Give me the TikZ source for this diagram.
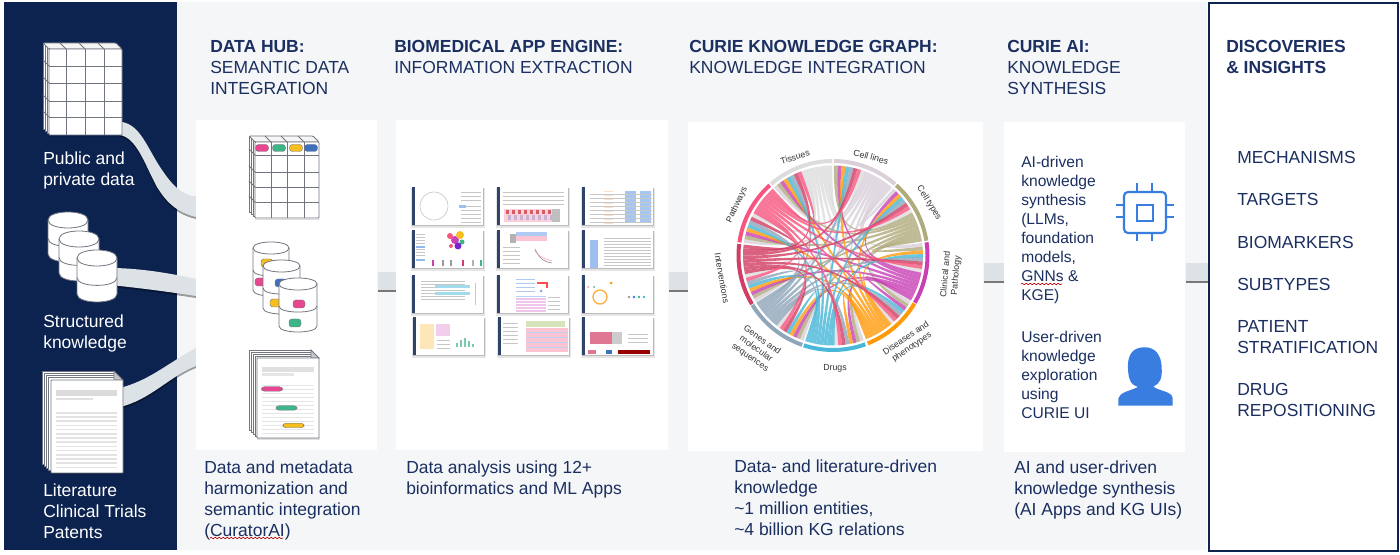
\documentclass[tikz,border=0pt]{standalone}
\usepackage{fontspec}
\setmainfont{Liberation Sans}
\usetikzlibrary{decorations.pathmorphing,calc}
\definecolor{navy}{HTML}{0C2350}
\definecolor{ink}{HTML}{1B2F60}
\definecolor{pale}{HTML}{F4F6F8}
\definecolor{bandc}{HTML}{DDE2E6}
\definecolor{edgec}{HTML}{70757F}
\definecolor{pk}{HTML}{E8468F}
\definecolor{gn}{HTML}{3DB587}
\definecolor{yl}{HTML}{F7BE1E}
\definecolor{bl}{HTML}{3F70BE}
\definecolor{chipc}{HTML}{3A7DE0}
\definecolor{c0}{HTML}{D9D0DA}
\definecolor{c1}{HTML}{B0AB7C}
\definecolor{c2}{HTML}{C93FB4}
\definecolor{c3}{HTML}{FF9A0A}
\definecolor{c4}{HTML}{48B7D8}
\definecolor{c5}{HTML}{8FA5BA}
\definecolor{c6}{HTML}{D13D63}
\definecolor{c7}{HTML}{F7557F}
\definecolor{c8}{HTML}{DCDCDC}
\tikzset{
  txt/.style={inner sep=0pt,anchor=north west,align=left,text=ink,font=\fontsize{13.1}{15.75}\selectfont},
  wtxt/.style={txt,text=white},
  aitxt/.style={txt,font=\fontsize{11.7}{14.25}\selectfont},
  panel/.style={fill=white,draw=none,inner sep=0pt,anchor=north west},
  band/.style={fill=bandc,draw=none},
  bandsh/.style={fill=black,fill opacity=.38,draw=none},
  link/.style={line width=14pt,draw=bandc},
  linksh/.style={line width=14pt,draw=black!65,draw opacity=.8},
  iconl/.style={draw=edgec,line width=.6pt,fill=white},
  gridl/.style={draw=edgec,line width=.6pt},
  pill/.style={draw=edgec,line width=.3pt,rounded corners=2.2pt},
  chart/.style={inner sep=0pt,align=center,text=black!80,font=\fontsize{6.6}{7.8}\selectfont},
  squig/.style={draw=red!75!black,line width=.45pt,decorate,decoration={snake,amplitude=.6pt,segment length=3pt}},
  chipl/.style={draw=chipc,line width=1.6pt},
  thl/.style={draw=black!22,line width=.4pt},
}
\newcommand{\GridIcon}[7]{%
  \fill[black,opacity=.12] (#1,#4+1) rectangle (#2+1,#4+2.5);
  \foreach \dd in {3,2,1}{
    \path[iconl] ({#1-#7*\dd/3},{#3-#7*\dd/3}) rectangle ({#2-#7*\dd/3},{#4-#7*\dd/3});
  }
  \path[iconl,fill=black!4,rounded corners=.8pt] (#1-#7,#3-#7) -- (#2-#7,#3-#7) -- (#2,#3) -- (#1,#3) -- cycle;
  \path[iconl,rounded corners=.6pt] (#1,#3) rectangle (#2,#4);
  \foreach \xx in {#5}{\draw[gridl] (\xx,#3) -- (\xx,#4); \draw[gridl] ({\xx-#7},{#3-#7}) -- (\xx,#3);}
  \foreach \yy in {#6}{\draw[gridl] (#1,\yy) -- (#2,\yy); \draw[gridl] (#1-#7,\yy-#7) -- (#1,\yy);}
}
\newcommand{\CylIcon}[5]{%
  \path[iconl] (#1,#3+#5) -- (#1,#4-#5) .. controls (#1,{#4+#5/3}) and (#2,{#4+#5/3}) .. (#2,#4-#5) -- (#2,#3+#5) .. controls (#2,{#3-#5/3}) and (#1,{#3-#5/3}) .. (#1,#3+#5) -- cycle;
  \draw[gridl] (#1,#3+#5) .. controls (#1,{#3+#5*7/3}) and (#2,{#3+#5*7/3}) .. (#2,#3+#5);
  \draw[gridl] (#1,{(#3+#4)/2+#5*.2}) .. controls (#1,{(#3+#4)/2+#5*1.5}) and (#2,{(#3+#4)/2+#5*1.5}) .. (#2,{(#3+#4)/2+#5*.2});
}
\newcommand{\DocIcon}[5]{%
  \fill[black,opacity=.12] (#1,#4+.5) rectangle (#2+1,#4+2.5);
  \foreach \dd in {4,3,2,1}{
    \path[iconl] ({#1-#5*\dd/4},{#3-#5*\dd/4}) rectangle ({#2-#5*\dd/4},{#4-#5*\dd/4});
  }
  \path[iconl,fill=black!22] (#2-#5,#3-#5) -- (#2,#3) -- (#2-#5,#3) -- cycle;
  \path[iconl,rounded corners=.4pt] (#1,#3) rectangle (#2,#4);
}
\newcommand{\Pill}[5]{\path[pill,fill=#5] ({#1-#3/2},{#2-#4/2}) rectangle ({#1+#3/2},{#2+#4/2});}
\newcommand{\ThumbBase}[2]{%
  \fill[black,opacity=.10] (#1-1,#2+1) rectangle (#1+73,#2+41);
  \fill[black,opacity=.18] (#1,#2+1) rectangle (#1+72,#2+39.5);
  \fill[white] (#1,#2) rectangle (#1+71,#2+38);
  \fill[navy!85] (#1,#2) rectangle (#1+2.5,#2+38);
}
\begin{document}
\begin{tikzpicture}[x=0.75pt,y=-0.75pt]
\useasboundingbox (0,0) rectangle (1400,555);
\fill[white] (0,0) rectangle (1400,555);
\fill[pale] (177,2.5) rectangle (1207,550);
\fill[navy] (3.5,2.5) rectangle (177,550);

% source bands
\coordinate (bandA) at (122,122);
\coordinate (bandB) at (196,197);
\foreach \sty/\yy in {bandsh/2,band/0}{
\begin{scope}[yshift=-\yy*0.75pt]
\path[\sty] (bandA) .. controls (140,125) and (147,147) .. (160,167) .. controls (172,185) and (180,194) .. (bandB) -- (196,217) .. controls (175,212) and (165,200) .. (157,187) .. controls (145,165) and (137,138) .. (120,135) -- cycle;
\path[\sty] (110,268) .. controls (135,268) and (165,272) .. (196,279) -- (196,296) .. controls (170,292) and (140,288) .. (110,285) -- cycle;
\path[\sty] (120,388) .. controls (150,380) and (165,365) .. (196,348) -- (196,366) .. controls (170,376) and (150,400) .. (120,407) -- cycle;
\end{scope}
}

% panels
\node[panel,minimum width=181*0.75pt,minimum height=330*0.75pt] (hub) at (196,119.5) {};
\node[panel,minimum width=272*0.75pt,minimum height=330*0.75pt] (app) at (396,120) {};
\node[panel,minimum width=295*0.75pt,minimum height=329*0.75pt] (graph) at (688,122) {};
\node[panel,minimum width=181*0.75pt,minimum height=330*0.75pt] (ai) at (1004,122) {};
\node[panel,draw=navy,line width=1.5pt,minimum width=189*0.75pt,minimum height=548*0.75pt] (out) at (1207.5,2.5) {};

% panel links
\draw[linksh] ([yshift=-1.5pt]hub.east |- 0,281) -- ([yshift=-1.5pt]app.west |- 0,281);
\draw[link] (hub.east |- 0,281) -- (app.west |- 0,281);
\draw[linksh] ([yshift=-1.5pt]app.east |- 0,281) -- ([yshift=-1.5pt]graph.west |- 0,281);
\draw[link] (app.east |- 0,281) -- (graph.west |- 0,281);
\draw[linksh] ([yshift=-1.5pt]graph.east |- 0,272) -- ([yshift=-1.5pt]ai.west |- 0,272);
\draw[link] (graph.east |- 0,272) -- (ai.west |- 0,272);
\draw[linksh] ([yshift=-1.5pt]ai.east |- 0,272) -- ([yshift=-1.5pt]out.west |- 0,272);
\draw[link] (ai.east |- 0,272) -- (out.west |- 0,272);

% left icons
\GridIcon{49}{122}{49}{135}{66,85,104}{66,83,101,117}{6}
\CylIcon{48}{88}{212}{262}{8}
\CylIcon{59}{99}{231}{281}{8}
\CylIcon{77}{117}{250}{302}{8}
\DocIcon{51}{123}{380}{473}{9}
\fill[black!14] (56,390) rectangle (117,396);
\fill[black!12] (56,398) rectangle (93,400);
\foreach \k in {0,...,13}{\fill[black!11] (56,{412+\k*4.2}) rectangle (117,{413.6+\k*4.2});}

% hub icons
\GridIcon{255}{319}{142}{218}{271,287,304}{155,172,187,202}{6}
\Pill{262}{148}{13}{7}{pk}
\Pill{279}{148}{13}{7}{gn}
\Pill{296}{148}{13}{7}{yl}
\Pill{311}{148}{13}{7}{bl}
\CylIcon{253}{289}{242}{296}{6}
\Pill{267}{263}{12}{8}{yl}
\Pill{261}{282}{12}{8}{pk}
\CylIcon{263}{300}{260}{314}{6}
\Pill{281}{283}{12}{8}{bl}
\Pill{276}{303}{12}{8}{yl}
\CylIcon{279}{317}{278}{332}{6}
\Pill{299}{304}{12}{8}{pk}
\Pill{295}{323}{12}{8}{gn}
\DocIcon{257}{319}{358}{438}{8}
\fill[black!12] (262,367) rectangle (314,372);
\fill[black!10] (262,373.5) rectangle (294,376);
\foreach \k in {0,...,12}{\fill[black!10] (262,{385+\k*4}) rectangle (314,{386.2+\k*4});}
\Pill{272}{389}{21}{4.5}{pk}
\Pill{286.5}{408}{21}{4.5}{gn}
\Pill{293.5}{425.5}{21}{4.5}{yl}

% app thumbnails
\ThumbBase{412}{187}
\draw[black!25,line width=.4pt] (434,206) circle [radius=14];
\foreach \yy in {192,196,200,206,210,214,218,222}{\draw[thl] (461,\yy) -- (481,\yy);}
\fill[chipc!50] (459,205) rectangle (466,208);
\ThumbBase{497}{187}
\foreach \yy in {192,196,200,204}{\draw[thl] (503,\yy) -- (564,\yy);}
\fill[c7!28] (504,209) rectangle (552,222);
\foreach \xx in {506,512,...,548}{\fill[red!70!black,opacity=.55] (\xx,210) rectangle ++(2.5,4);\fill[bl,opacity=.3] (\xx+2,215) rectangle ++(2.5,5);}
\fill[black!25] (552,209) rectangle (560,222);
\ThumbBase{582}{187}
\foreach \yy in {191,195,...,223}{\fill[c7!40!yl!30] (604,\yy) rectangle ++(9,1.5);}
\foreach \xx in {625,640}{\fill[chipc!45] (\xx,191) rectangle ++(11,31);}
\foreach \yy in {194,198,...,222}{\draw[thl] (590,\yy) -- (652,\yy);}
\ThumbBase{412}{230}
\foreach \yy in {234,237,...,255}{\draw[thl] (416,\yy) -- (425,\yy);}
\fill[chipc!55] (416,246) rectangle (425,248);\fill[chipc!55] (416,259) rectangle (425,261);
\fill[c2] (455,240) circle [radius=4];\fill[yl] (460,235) circle [radius=4];\fill[c7] (450,236) circle [radius=3];\fill[gn] (462,242) circle [radius=2.5];\fill[c2!60!blue] (458,246) circle [radius=3.5];\fill[c7] (451,246) circle [radius=2];
\foreach \xx/\cc in {432/c2,442/black!40,450/black!40,462/c6,472/black!30,480/gn}{\fill[\cc] (\xx,260) rectangle ++(2,6);}
\ThumbBase{497}{230}
\fill[chipc!40] (516,232) rectangle (547,236);
\fill[c7!35] (516,236) rectangle (547,241);
\fill[black!60,opacity=.5] (510,234) rectangle (516,243);
\foreach \yy in {247,251,...,265}{\draw[thl] (503,\yy) -- (520,\yy);}
\draw[black!50,line width=.4pt] (535,249) .. controls (540,260) and (545,262) .. (552,263);
\draw[c7!60,line width=.4pt] (535,251) .. controls (540,258) and (546,259) .. (552,261);
\ThumbBase{582}{230}
\fill[chipc!50] (590,240) rectangle (598,268);
\foreach \yy in {238,241,...,265}{\draw[thl] (604,\yy) -- (651,\yy);}
\ThumbBase{412}{275}
\foreach \yy in {281,284,...,300}{\draw[thl] (421,\yy) -- (465,\yy);}
\fill[c4!50] (435,285) rectangle (470,288);\fill[c4!50] (435,292) rectangle (470,295);
\draw[thl] (475,283) -- (475,305);
\ThumbBase{497}{275}
\foreach \yy in {279,283,287,291}{\draw[chipc!40,line width=.4pt] (516,\yy) -- (535,\yy);}
\draw[red!70,line width=1pt] (537,283) -- (547,283) -- (547,288);
\fill[bl!60] (541,291) circle [radius=1.5];
\foreach \yy in {298,301,...,310}{\fill[c2!30] (516,\yy) rectangle (546,\yy+2);}
\fill[chipc!35] (516,296) rectangle (546,297.5);
\foreach \yy in {297,301,...,309}{\draw[thl] (548,\yy) -- (560,\yy);}
\ThumbBase{582}{275}
\draw[c3!80,line width=1pt] (600,297) circle [radius=7];
\fill[c7!70] (588,287) circle [radius=1];\fill[gn] (594,287) circle [radius=1];\fill[c3] (611,283) circle [radius=1.5];
\foreach \xx/\cc in {629/black!40,634/chipc,639/gn,644/c4}{\fill[\cc] (\xx,297) circle [radius=1.3];}
\ThumbBase{413}{317}
\fill[yl!60!c3!30] (420,324) rectangle (434,349);
\fill[c2!25] (436,324) rectangle (450,336);
\foreach \yy in {340,344,348}{\draw[thl] (437,\yy) -- (450,\yy);}
\foreach \xx/\hh in {456/4,460/7,464/9,468/6,472/3}{\fill[gn!70] (\xx,{347-\hh}) rectangle ++(2,\hh);}
\ThumbBase{498}{317}
\foreach \yy in {323,327,...,345}{\draw[thl] (503,\yy) -- (518,\yy);}
\fill[yl!50!gn!40] (526,321) rectangle (565,327);
\fill[c7!35] (526,328) rectangle (568,352);
\foreach \yy in {332,337,...,350}{\draw[chipc!35,line width=.4pt] (526,\yy) -- (568,\yy);}
\ThumbBase{582}{317}
\fill[c6!70] (590,332) rectangle (612,344);
\fill[black!20] (612,332) rectangle (622,344);
\foreach \yy in {334,338,342}{\draw[thl] (628,\yy) -- (648,\yy);}
\fill[c6!70] (588,350) rectangle (596,354);\fill[bl] (606,350) rectangle (612,354);\fill[red!60!black] (618,350) rectangle (650,354);

% chord diagram
\def\CX{833}\def\CY{255.5}
\foreach \i in {8,0,1,2,3,4,5,6,7}{
  \pgfmathsetmacro{\sa}{{0.5,42,82,120.5,160,199,239,278,319}[\i]}
  \pgfmathsetmacro{\ea}{{41,81,120,158.5,198,238.5,277,318,359.5}[\i]}
  \pgfmathsetmacro{\mi}{(\sa+\ea)/2}
  \pgfmathsetmacro{\fw}{(\ea-\mi)/8}
  \foreach \k in {1,...,8}{
    \pgfmathtruncatemacro{\j}{mod(\i+\k,9)}
    \pgfmathsetmacro{\sb}{{0.5,42,82,120.5,160,199,239,278,319}[\j]}
    \pgfmathsetmacro{\eb}{{41,81,120,158.5,198,238.5,277,318,359.5}[\j]}
    \pgfmathsetmacro{\iw}{(\eb-\sb)/16}
    \pgfmathtruncatemacro{\m}{\i<\j ? \i : \i-1}
    \pgfmathsetmacro{\aa}{\ea-\k*\fw}
    \pgfmathsetmacro{\ab}{\aa+\fw}
    \pgfmathsetmacro{\ba}{\sb+\m*\iw}
    \pgfmathsetmacro{\bb}{\ba+\iw}
    \fill[fill=c\i,fill opacity=.8]
      ({\CX+90*sin(\aa)},{\CY-90*cos(\aa)}) -- ({\CX+90*sin(\ab)},{\CY-90*cos(\ab)})
      .. controls ({\CX+22*sin(\ab)},{\CY-22*cos(\ab)}) and ({\CX+22*sin(\ba)},{\CY-22*cos(\ba)}) ..
      ({\CX+90*sin(\ba)},{\CY-90*cos(\ba)}) -- ({\CX+90*sin(\bb)},{\CY-90*cos(\bb)})
      .. controls ({\CX+22*sin(\bb)},{\CY-22*cos(\bb)}) and ({\CX+22*sin(\aa)},{\CY-22*cos(\aa)}) ..
      cycle;
  }
  \draw[c\i,line width=3pt] plot[domain=\sa:\ea,samples=24] ({\CX+94.5*sin(\x)},{\CY-94.5*cos(\x)});
}
\node[chart,rotate=17] (lTis) at (795,157) {Tissues};
\node[chart,rotate=-15] (lCel) at (871,157) {Cell lines};
\node[chart,rotate=-58] (lTyp) at (929,203) {Cell types};
\node[chart,rotate=85] (lCli) at (951,275) {Clinical and\\Pathology};
\node[chart,rotate=34] (lDis) at (909,343) {Diseases and\\phenotypes};
\node[chart] (lDru) at (835,368) {Drugs};
\node[chart,rotate=-35] (lGen) at (756,349) {Genes and\\molecular\\sequences};
\node[chart,rotate=-80] (lInt) at (722,278) {Interventions};
\node[chart,rotate=65] (lPat) at (737,205) {Pathways};

% chip icon
\draw[chipl,rounded corners=3pt] (1124,192) rectangle (1166,233);
\draw[chipl] (1137,205) rectangle (1153,221);
\foreach \xx in {1137,1152}{\draw[chipl] (\xx,183) -- (\xx,192); \draw[chipl] (\xx,233) -- (\xx,241);}
\foreach \yy in {205,217}{\draw[chipl] (1116,\yy) -- (1124,\yy); \draw[chipl] (1166,\yy) -- (1174,\yy);}
% person icon
\fill[chipc] (1118.3,405.7) -- (1118.3,398.3) .. controls (1120,392) and (1130,391) .. (1138,387)
  .. controls (1131,385) and (1127.5,380) .. (1128,363.3)
  .. controls (1129,351) and (1136,347.3) .. (1145,347.3)
  .. controls (1155,347.3) and (1161.7,355) .. (1161.7,368.3)
  .. controls (1162.3,378) and (1160,384) .. (1153.3,386.5)
  .. controls (1158,391) and (1172,391) .. (1172.7,398.3)
  -- (1172.7,405.7) -- cycle;

% headings
\node[txt] (h1) at (210,40) {\textbf{DATA HUB:}\\SEMANTIC DATA\\INTEGRATION};
\node[txt] (h2) at (394,40) {\textbf{BIOMEDICAL APP ENGINE:}\\INFORMATION EXTRACTION};
\node[txt] (h3) at (689,40) {\textbf{CURIE KNOWLEDGE GRAPH:}\\KNOWLEDGE INTEGRATION};
\node[txt] (h4) at (1007,40) {\textbf{CURIE AI:}\\KNOWLEDGE\\SYNTHESIS};
\node[txt] (h5) at (1226,40) {\textbf{DISCOVERIES}\\\textbf{\&\ INSIGHTS}};

% source labels
\node[wtxt] (s1) at (43,152) {Public and\\private data};
\node[wtxt] (s2) at (43,315) {Structured\\knowledge};
\node[wtxt] (s3) at (43,484) {Literature\\Clinical Trials\\Patents};

% captions
\node[txt] (c1) at (204,461) {Data and metadata\\harmonization and\\semantic integration\\(CuratorAI)};
\node[txt] (c2) at (406,461) {Data analysis using 12+\\bioinformatics and ML Apps};
\node[txt] (c3) at (734,459.5) {Data- and literature-driven\\knowledge\\\textasciitilde1 million entities,\\\textasciitilde4 billion KG relations};
\node[txt] (c4) at (1014,461) {AI and user-driven\\knowledge synthesis\\(AI Apps and KG UIs)};
\draw[squig] (210,538) -- (283,538);

% AI panel text
\node[aitxt] (a1) at (1021,156) {AI-driven\\knowledge\\synthesis\\(LLMs,\\foundation\\models,\\GNNs \&\\KGE)};
\node[aitxt] (a2) at (1021,331) {User-driven\\knowledge\\exploration\\using\\CURIE UI};
\draw[squig] (1021,284) -- (1062,284);

% outcomes
\node[txt] (o1) at (1237,151) {MECHANISMS};
\node[txt] (o2) at (1237,193) {TARGETS};
\node[txt] (o3) at (1237,236) {BIOMARKERS};
\node[txt] (o4) at (1237,278) {SUBTYPES};
\node[txt] (o5) at (1237,320) {PATIENT\\STRATIFICATION};
\node[txt] (o6) at (1237,383) {DRUG\\REPOSITIONING};
\end{tikzpicture}
\end{document}
